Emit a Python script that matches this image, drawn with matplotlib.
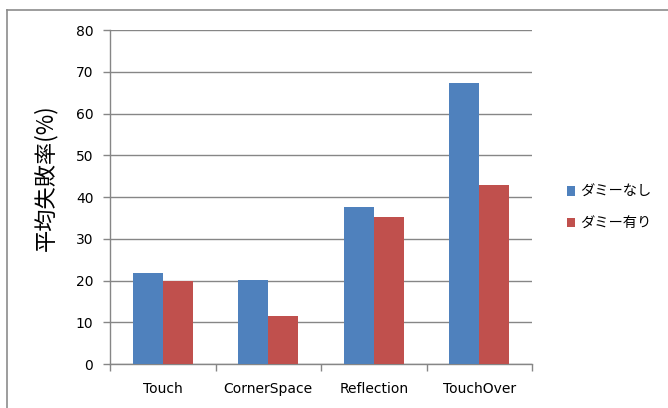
import numpy as np
import matplotlib.pyplot as plt
from matplotlib.lines import Line2D
from matplotlib.patches import Patch

plt.rcParams['font.family'] = ['Noto Sans CJK JP', 'DejaVu Sans']

categories = ['Touch', 'CornerSpace', 'Reflection', 'TouchOver']
no_dummy = [21.9, 20.1, 37.5, 67.2]
with_dummy = [19.9, 11.5, 35.2, 42.8]
series_names = ['ダミーなし', 'ダミー有り']
colors = ['#4F81BD', '#C0504D']
grid_color = '#868686'

W, H = 668, 408
fig = plt.figure(figsize=(W / 100, H / 100), dpi=100)
ax = fig.add_axes([110 / W, 1 - 364 / H, (532 - 110) / W, (364 - 30) / H])

x = np.arange(len(categories))
w = 0.285
ax.bar(x - w / 2, no_dummy, w, color=colors[0], zorder=3)
ax.bar(x + w / 2, with_dummy, w, color=colors[1], zorder=3)

ax.set_xlim(-0.5, len(categories) - 0.5)
ax.set_ylim(0, 80)
ax.set_yticks(np.arange(0, 81, 10))
ax.set_xticks(x)
ax.set_xticklabels(categories, family='DejaVu Sans', fontsize=10)
ax.tick_params(axis='x', length=0, pad=13)
ax.tick_params(axis='y', length=5, width=1, color=grid_color,
               labelsize=10, pad=7)
for lbl in ax.get_yticklabels():
    lbl.set_family('DejaVu Sans')

# boundaries between categories get small tick marks below the axis
ax.set_xticks(np.arange(-0.5, len(categories), 1), minor=True)
ax.tick_params(axis='x', which='minor', length=5, width=1, color=grid_color)

ax.yaxis.grid(True, color=grid_color, linewidth=1, zorder=0)
ax.set_axisbelow(True)
for side in ['top', 'right']:
    ax.spines[side].set_visible(False)
for side in ['left', 'bottom']:
    ax.spines[side].set_color(grid_color)
    ax.spines[side].set_linewidth(1)

fig.text(45 / W, 1 - 178 / H, '平均失敗率(%)', fontsize=16, rotation=90,
         ha='center', va='center')

handles = [Patch(facecolor=c, edgecolor='none') for c in colors]
fig.legend(handles, series_names, loc='center left',
           bbox_to_anchor=(554 / W, 1 - 208 / H), frameon=False,
           fontsize=10.3, handlelength=0.6, handleheight=0.6,
           handletextpad=0.3, labelspacing=1.25)

# outer chart frame (only top and left edges fall inside the image)
fig.add_artist(Line2D([7 / W, 1], [1 - 10 / H, 1 - 10 / H],
                      transform=fig.transFigure, color='#8c8c8c', linewidth=1.2))
fig.add_artist(Line2D([7 / W, 7 / W], [0, 1 - 10 / H],
                      transform=fig.transFigure, color='#8c8c8c', linewidth=1.2))

fig.savefig('out.png', dpi=100, facecolor='white')
